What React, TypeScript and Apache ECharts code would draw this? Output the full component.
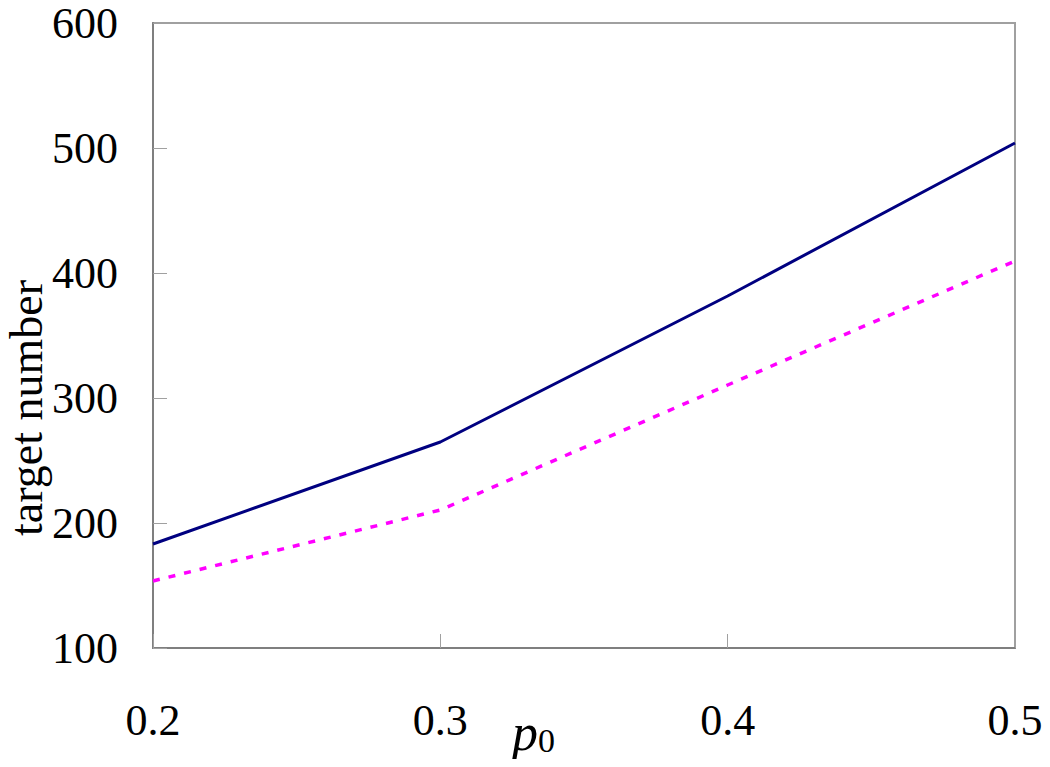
import React, { useEffect, useRef } from "react";
import * as echarts from "echarts";

const xValues = [0.2, 0.3, 0.4, 0.5];
const solidSeries = [183.2, 264.8, 381.6, 504.0];
const dashedSeries = [153.6, 210.4, 310.4, 409.6];
const yTicks = { min: 100, max: 600, interval: 100 };
const xTicks = { min: 0.2, max: 0.5, interval: 0.1 };
const yName = "target number";

export default function App() {
  const ref = useRef<HTMLDivElement>(null);
  useEffect(() => {
    if (!ref.current) return;
    const chart = echarts.init(ref.current, undefined, { renderer: "svg" });
    const font = "'Liberation Serif', 'Times New Roman', serif";
    chart.setOption({
      animation: false,
      backgroundColor: "#ffffff",
      grid: {
        left: 153,
        right: 35,
        top: 23,
        bottom: 119,
        show: true,
        borderColor: "#a0a0a0",
        borderWidth: 2,
        containLabel: false,
        outerBoundsMode: "none",
      },
      xAxis: {
        type: "value",
        min: xTicks.min,
        max: xTicks.max,
        interval: xTicks.interval,
        axisLine: { show: true, onZero: false, lineStyle: { color: "#7f7f7f", width: 2 } },
        axisTick: { show: true, inside: true, length: 14, lineStyle: { color: "#a0a0a0", width: 1 } },
        splitLine: { show: false },
        axisLabel: {
          color: "#000",
          fontFamily: font,
          fontSize: 44,
          margin: 50,
          formatter: (v: number) => v.toFixed(1),
        },
      },
      yAxis: {
        type: "value",
        min: yTicks.min,
        max: yTicks.max,
        interval: yTicks.interval,
        axisLine: { show: true, lineStyle: { color: "#7f7f7f", width: 2 } },
        axisTick: { show: true, inside: true, length: 14, lineStyle: { color: "#a0a0a0", width: 1 } },
        splitLine: { show: false },
        axisLabel: {
          color: "#000",
          fontFamily: font,
          fontSize: 44,
          margin: 35,
        },
      },
      graphic: [
        {
          type: "text",
          x: 26,
          y: 408,
          rotation: Math.PI / 2,
          style: {
            text: yName,
            fontFamily: font,
            fontSize: 46,
            fill: "#000",
            align: "center",
            verticalAlign: "middle",
          },
        },
        {
          type: "text",
          left: 512,
          top: 706,
          style: {
            text: "{i|p}{s|0}",
            rich: {
              i: { fontFamily: font, fontStyle: "italic", fontSize: 52, fill: "#000" },
              s: { fontFamily: font, fontSize: 34, fill: "#000", padding: [16, 0, 0, 0] },
            },
          },
        },
      ],
      series: [
        {
          type: "line",
          data: xValues.map((x, i) => [x, solidSeries[i]]),
          showSymbol: false,
          symbol: "none",
          lineStyle: { color: "#000080", width: 3 },
        },
        {
          type: "line",
          data: xValues.map((x, i) => [x, dashedSeries[i]]),
          showSymbol: false,
          symbol: "none",
          lineStyle: { color: "#ff00ff", width: 3.5, type: [7, 9] },
        },
      ],
    });
    return () => chart.dispose();
  }, []);
  return <div ref={ref} style={{ width: 1050, height: 767, margin: -8 }} />;
}
